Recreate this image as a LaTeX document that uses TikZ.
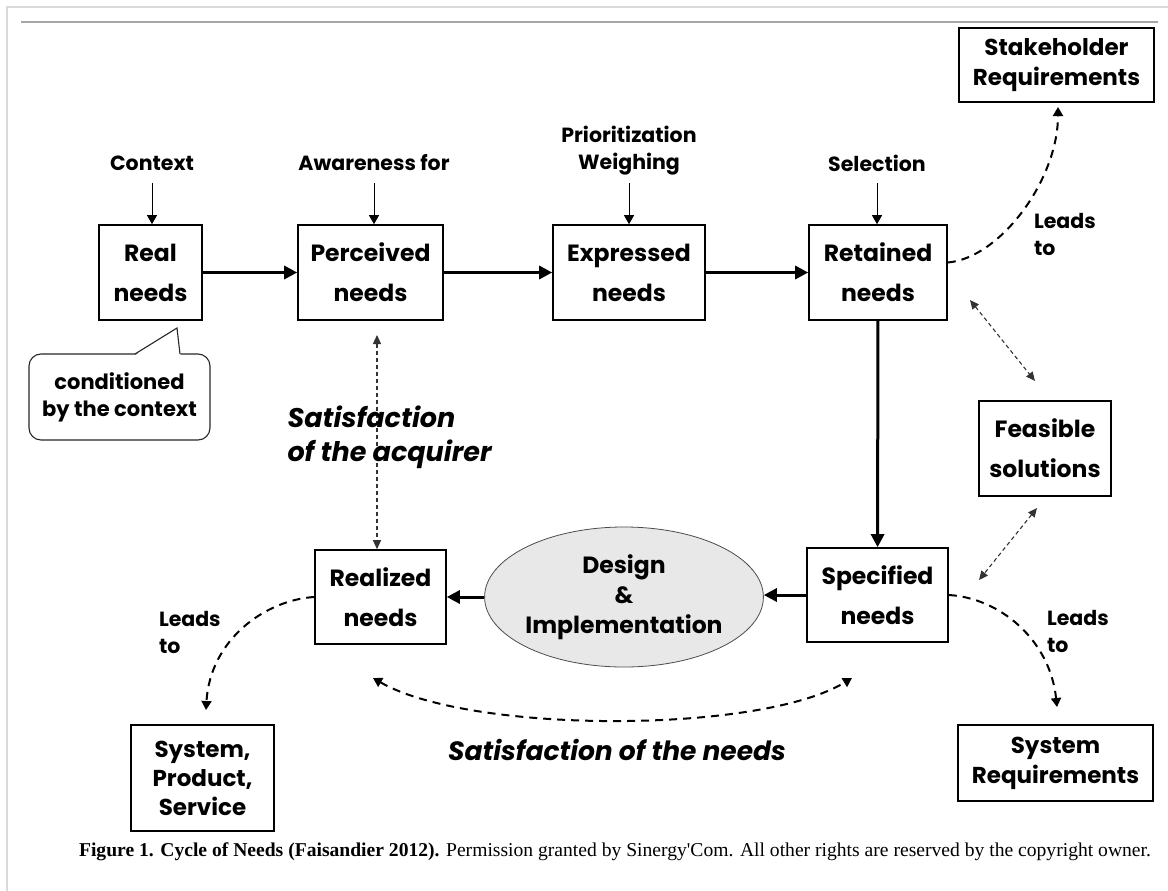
\documentclass[tikz,border=0pt]{standalone}
\usepackage{fontspec}
\setmainfont{Poppins}
\newfontfamily\capfont{Liberation Serif}
\usetikzlibrary{arrows.meta,shapes.geometric}
\begin{document}
\begin{tikzpicture}[x=1pt,y=-1pt,
  bx/.style={draw, line width=1.6, inner sep=0pt, align=center, font=\fontsize{23.5}{40}\selectfont\bfseries},
  bxs/.style={draw, line width=1.6, inner sep=0pt, align=center, font=\fontsize{23}{30}\selectfont\bfseries},
  lbl/.style={inner sep=1pt, outer sep=0pt, align=center, font=\fontsize{20.5}{27}\selectfont\bfseries},
  thk/.style={line width=3, -{Triangle[length=13,width=13]}},
  thn/.style={line width=1, -{Triangle[length=9,width=10]}},
  lead/.style={line width=2, dash pattern=on 8 off 6, -{Triangle[length=9,width=10]}},
  dots/.style={line width=1.1, draw=black!80, dash pattern=on 4 off 3, {Triangle[length=9,width=8]}-{Triangle[length=9,width=8]}}
]
\useasboundingbox (0,0) rectangle (1168,891);
% frame
\draw[black!15, line width=1.5] (7,891) -- (7,7) -- (1168,7);
\draw[black!35, line width=1.2] (21,22) -- (1158,22);

% boxes
\node[bx, minimum width=103, minimum height=95] (real) at (150.5,272.5) {Real\\needs};
\node[bx, minimum width=145, minimum height=95] (perc) at (370.5,272.5) {Perceived\\needs};
\node[bx, minimum width=152, minimum height=95] (expr) at (629,272.5) {Expressed\\needs};
\node[bx, minimum width=138, minimum height=95] (ret) at (878,272.5) {Retained\\needs};
\node[bx, minimum width=141, minimum height=94] (spec) at (877.5,595) {Specified\\needs};
\node[bx, minimum width=131, minimum height=94] (rea) at (380.5,597) {Realized\\needs};
\node[bx, minimum width=132, minimum height=95] (feas) at (1045,448.5) {Feasible\\solutions};
\node[bxs, minimum width=195, minimum height=74] (stake) at (1056.5,65) {Stakeholder\\Requirements};
\node[bxs, minimum width=195, minimum height=76] (sysreq) at (1055.5,763) {System\\Requirements};
\node[bxs, minimum width=143, minimum height=106, font=\fontsize{23}{29}\selectfont\bfseries] (sps) at (202.5,778) {System,\\Product,\\Service};
\node[ellipse, draw=black!70, line width=0.8, fill=black!9, minimum width=268, minimum height=140, inner sep=0pt, align=center, font=\fontsize{23.5}{30}\selectfont\bfseries] (des) at (624,597) {Design\\\&\\Implementation};

% top labels
\node[lbl] (ctx) at (152,163) {Context};
\node[lbl] (awa) at (374,163) {Awareness for};
\node[lbl] (pri) at (629,151) {Prioritization\\Weighing};
\node[lbl] (sel) at (877,163) {Selection};
\draw[thn] (ctx.south |- 0,183) -- (ctx.south |- real.north);
\draw[thn] (awa.south |- 0,183) -- (awa.south |- perc.north);
\draw[thn] (pri.south |- 0,183) -- (pri.south |- expr.north);
\draw[thn] (sel.south |- 0,183) -- (sel.south |- ret.north);

% main flow
\draw[thk] (real) -- (perc);
\draw[thk] (perc) -- (expr);
\draw[thk] (expr) -- (ret);
\draw[thk] (ret) -- (spec);
\draw[thk] (spec.west) -- (des.east |- spec.west);
\draw[thk] (des) -- (rea);

% callout
\node[draw=black!85, line width=1.1, rounded corners=12, minimum width=181, minimum height=86, inner sep=0pt, align=center, font=\fontsize{21}{27}\selectfont\bfseries] (call) at (119.5,397) {conditioned\\by the context};
\fill[white] (135.5,355) -- (177,328) -- (180.5,355) -- cycle;
\draw[black!85, line width=1.1] (135,354) -- (177,328) -- (180,354);

% dotted double arrows
\coordinate (pd) at (377,335);
\coordinate (rd1) at (970,300);
\coordinate (fd1) at (1035,381);
\coordinate (fd2) at (1037,508);
\coordinate (sd2) at (979,580);
\draw[dots] (pd) -- (pd |- rea.north);
\draw[dots] (rd1) -- (fd1);
\draw[dots] (fd2) -- (sd2);

% leads to
\coordinate (st1) at (1058,107);
\coordinate (sr1) at (1057,707);
\coordinate (sp1) at (206,710);
\draw[lead] ([yshift=10pt]ret.east) .. controls (1000,258) and (1058,180) .. (st1);
\draw[lead] (spec.east) .. controls (1000,598) and (1050,640) .. (sr1);
\draw[lead] (rea.west) .. controls (265,600) and (210,640) .. (sp1);
\node[lbl, anchor=west, align=left] (l1) at (1033,234) {Leads\\to};
\node[lbl, anchor=west, align=left] (l2) at (1046,631) {Leads\\to};
\node[lbl, anchor=west, align=left] (l3) at (158,632) {Leads\\to};

% satisfaction of the needs
\coordinate (sn1) at (373,678);
\coordinate (sn2) at (852,678);
\draw[lead, {Triangle[length=9,width=10]}-{Triangle[length=9,width=10]}] (sn1) .. controls (470,734) and (760,734) .. (sn2);
\node[font=\fontsize{26.5}{30}\selectfont\bfseries\itshape] (snt) at (617,750) {Satisfaction of the needs};
\node[anchor=west, align=left, font=\fontsize{27}{34}\selectfont\bfseries\itshape] (sacq) at (284,437) {Satisfaction\\of the acquirer};

% caption
\node[font=\capfont\fontsize{19.6}{22}\selectfont] (cap) at (615,852) {\textbf{Figure 1. Cycle of Needs (Faisandier 2012).} Permission granted by Sinergy'Com. All other rights are reserved by the copyright owner.};
\end{tikzpicture}
\end{document}
